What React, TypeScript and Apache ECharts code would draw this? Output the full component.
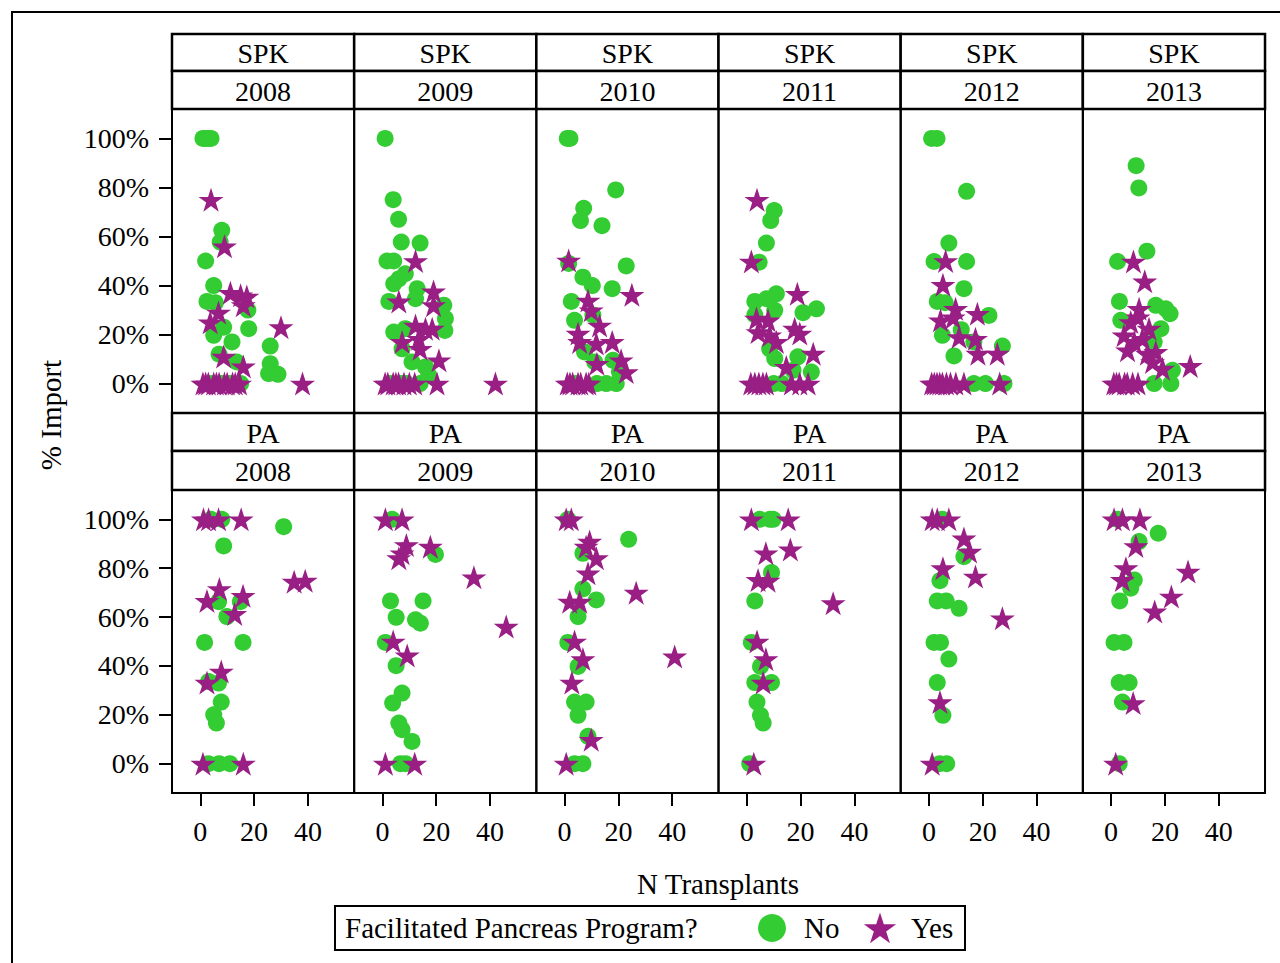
import React, { useEffect, useRef } from 'react';
import * as echarts from 'echarts';

const programs = ['SPK', 'PA'];
const years = ['2008', '2009', '2010', '2011', '2012', '2013'];
const yTicks = [0, 20, 40, 60, 80, 100];
const xTicks = [0, 20, 40];
const legendTitle = 'Facilitated Pancreas Program?';
const legendNames = ['No', 'Yes'];
const xTitle = 'N Transplants';
const yTitle = '% Import';

// ---- SPK panels: [N transplants, % import]
const spk2008No = [[1,100],[2,100],[3,100],[4,100],[8,62.5],[7.4,57.7],[2,50],[5,40],[2.5,33.5],[5.6,33],[17.7,30],[8.7,23],[18,22.4],[5,19.7],[11.8,17],[26,15.3],[26,8.1],[25.4,4.1],[28.9,3.8],[7,12],[13.6,8.8],[4,0],[8,0],[11,0],[15,0]];
const spk2008Yes = [[4,75],[9,56],[11.2,37],[15,36],[17.3,35.5],[16,32],[6.8,29],[3.7,25],[30,23],[8.7,11],[16,7],[38,0],[1,0],[2,0],[3,0],[5,0],[6,0],[7,0],[9,0],[10,0],[12,0],[13,0],[14.6,0]];
const spk2009No = [[1,100],[4,75],[6,67],[7,57.7],[14,57.3],[1.7,50],[4.2,50],[4.2,40.7],[6.1,42.7],[8.5,44.8],[12.9,38.7],[12.3,34.6],[2.4,33.5],[22.8,32],[23.4,26.5],[23.2,21.7],[4.2,21],[8.5,22.4],[7.3,14.2],[11,8.8],[16,6.8],[17.2,3.4],[3,0],[7,0],[9,0],[14,0]];
const spk2009Yes = [[12.3,50],[6.1,33.5],[19,37.6],[19,32],[12.3,23.7],[16,22.4],[13.5,18.3],[7.3,17],[14,14.2],[18.5,22.4],[21,9.5],[20.3,0],[42,0],[1,0],[2,0],[4,0],[5,0],[6,0],[8,0],[10,0],[12,0]];
const spk2010No = [[1,100],[2,100],[19,79],[7.1,71.5],[5.9,66.5],[13.9,64.4],[1.5,49],[22.9,48],[6.8,43.4],[10.3,40],[17.7,38.7],[2.5,33.5],[10.5,28],[3.7,25.8],[7.4,12.9],[11.2,8.8],[18,9.5],[15.5,0],[19.2,0],[20.4,4.7],[12,0],[4,0]];
const spk2010Yes = [[1.5,50.2],[25,36.2],[8.7,33.9],[9.9,29.9],[13,23.7],[5,20.4],[5.6,17],[11.8,16.3],[17.7,17],[12,8.1],[21,9.5],[22.9,4.7],[1,0],[2,0],[3,0],[5,0],[6,0],[8,0],[9,0]];
const spk2011No = [[10.2,70.6],[8.9,66.5],[7.3,57.3],[4.6,49.5],[3,33.5],[7.3,34.6],[11,36.6],[10.4,29.9],[20.9,28.9],[25.9,30.5],[8.5,14.2],[10.4,10.2],[19,10.9],[17.2,5.4],[24,4.7],[3,28],[10,0],[13,0]];
const spk2011Yes = [[3.8,75],[1.7,49.8],[18.8,36.6],[3.6,26.5],[7.9,25.8],[4.2,21],[8.5,19.7],[11,17],[17.8,22.4],[19.7,20.4],[24.7,12.2],[14.7,6.8],[16.6,0],[19.7,0],[22.8,0],[1.5,0],[3,0],[4.5,0],[6,0],[7.3,0]];
const spk2012No = [[1,100],[3,100],[14,78.4],[7.4,57.3],[1.9,49.8],[14,49.8],[13,38.7],[3.1,33.5],[22.3,27.8],[5,19.7],[9.3,11.3],[27.3,15.3],[16.7,17],[16.7,0],[21,0],[27.9,0],[6,33],[12,22]];
const spk2012Yes = [[6.2,50],[5.2,40.3],[9.9,30.5],[9,27],[18,28.5],[4.3,25.8],[11.2,19],[17.3,18.3],[18.2,12.2],[25.4,12.2],[26.3,0],[1,0],[2,0],[3,0],[4,0],[5,0],[6.5,0],[8,0],[10,0],[13,0]];
const spk2013No = [[9.3,88.9],[10.3,79.8],[13.3,54],[2.4,49.8],[3.1,33.5],[16.6,31.9],[21.9,28.5],[18.5,22.4],[16,17],[20.3,30.5],[3.6,25.8],[22.8,5.4],[22.2,0],[16,0]];
const spk2013Yes = [[8.3,49.8],[12.5,41.7],[10.4,30.5],[10,27],[7.3,25.1],[14.1,22.4],[4.8,19.7],[8.6,17],[11.6,18.3],[6.1,13.6],[13.5,12.2],[16.6,12.9],[19.1,6.1],[15.4,8.8],[29.4,7.2],[1,0],[2,0],[3,0],[5,0],[6,0],[8,0],[10,0]];

// ---- PA panels
const pa2008No = [[4,100],[8,100],[31,97],[8.7,89.1],[6.8,66.3],[14.9,66.3],[9.9,60.2],[1.6,49.6],[15.9,49.6],[3.1,33.6],[6.8,33],[7.8,25.2],[5,20],[6,16.6],[7,0],[11,0],[3,0]];
const pa2008Yes = [[1.2,100],[3.1,100],[6.8,100],[15.2,100],[34.9,74.5],[39,74.9],[7.1,71.5],[2.5,66.6],[15.9,68.7],[12.8,61.3],[7.8,37.7],[2.5,33.2],[1,0],[16,0]];
const pa2009No = [[3.6,100],[19.7,85.6],[3,66.6],[15.1,66.6],[5.1,59.9],[12.3,58.9],[14.1,57.5],[1.1,49.6],[5.1,40.1],[7.3,28.9],[3.8,24.8],[6.1,16.6],[7.3,13.9],[11,9.1],[6.7,0],[8.6,0]];
const pa2009Yes = [[1.1,100],[7.3,100],[8.9,89.5],[7.3,86.1],[6.1,84.1],[17.8,88.8],[34,76.3],[46,56.1],[4,50],[9.2,44.3],[1.1,0],[12,0]];
const pa2010No = [[1.2,100],[23.8,91.8],[6.8,86.1],[6.8,71.5],[11.8,67],[5,60.2],[1.2,49.6],[5,39.8],[3.7,25.2],[8,25.2],[5,19.8],[8.7,11.2],[3.7,0],[6.8,0]];
const pa2010Yes = [[0.6,100],[2.5,100],[9.3,90.9],[8,88.8],[11.8,84.1],[8.7,77.9],[26.6,70],[1.9,66.3],[5.6,66.3],[3.7,50],[6.8,42.8],[2.7,33.2],[40.9,43.9],[9.9,9.8],[0.6,0]];
const pa2011No = [[4.8,100],[8.6,100],[9.8,100],[9.2,78.2],[3,66.6],[1.7,49.6],[5.1,39.8],[3,33.2],[9.2,33.2],[3.8,25.2],[5.1,19.8],[6.1,16.6],[1.1,0]];
const pa2011Yes = [[1.7,100],[15.4,100],[7.1,86.1],[16.2,87.7],[4.2,75.2],[7.9,74.9],[32.1,65.7],[3.8,50],[7.1,42.8],[6.1,33.2],[2.6,0]];
const pa2012No = [[5,100],[13,84.7],[4.1,74.9],[3.1,66.6],[6.4,66.6],[11.2,63.6],[1.9,49.6],[4.3,49.6],[7.4,42.8],[3.1,33.2],[5.2,19.8],[4,0],[6.6,0]];
const pa2012Yes = [[1.2,100],[3.1,100],[7.4,100],[13,92.2],[15.1,86.8],[5.2,80],[17.3,76.6],[27.3,59.5],[4.1,25.2],[1.2,0]];
const pa2013No = [[2.4,100],[17.5,94.3],[10.4,90.9],[8.6,75.2],[7.3,71.8],[3.2,66.6],[1.1,49.6],[4.8,49.6],[3,33.2],[6.7,33.2],[4.2,25.2],[3,0]];
const pa2013Yes = [[1.1,100],[4.2,100],[10.7,100],[9.2,89.1],[5.5,80],[4.2,75.2],[28.6,78.6],[22.4,68.4],[16.2,62.3],[8.2,24.8],[1.7,0]];

const panelNo = [
  [spk2008No, spk2009No, spk2010No, spk2011No, spk2012No, spk2013No],
  [pa2008No, pa2009No, pa2010No, pa2011No, pa2012No, pa2013No],
];
const panelYes = [
  [spk2008Yes, spk2009Yes, spk2010Yes, spk2011Yes, spk2012Yes, spk2013Yes],
  [pa2008Yes, pa2009Yes, pa2010Yes, pa2011Yes, pa2012Yes, pa2013Yes],
];

const GREEN = '#33CC33';
const PURPLE = '#991F85';
const FONT = 'Liberation Serif';
const STAR_PTS = [
  [0, -1], [0.2245, -0.309], [0.9511, -0.309], [0.3633, 0.118], [0.5878, 0.809],
  [0, 0.382], [-0.5878, 0.809], [-0.3633, 0.118], [-0.9511, -0.309], [-0.2245, -0.309],
];
const STAR_PATH =
  'path://M' + STAR_PTS.map((p) => `${p[0]} ${p[1]}`).join(' L') + ' Z';

const LEFT = 172;
const COLW = 182.17;
const rowsLayout = [
  { top: 109, h: 304, h1: 34, h2: 71 },
  { top: 490, h: 303, h1: 413, h2: 451 },
];

export default function App() {
  const ref = useRef<HTMLDivElement>(null);
  useEffect(() => {
    if (!ref.current) return;
    const chart = echarts.init(ref.current, undefined, { renderer: 'svg' });
    const grid: any[] = [];
    const xAxis: any[] = [];
    const yAxis: any[] = [];
    const series: any[] = [];
    const graphic: any[] = [];
    let gi = 0;
    programs.forEach((prog, r) => {
      const L = rowsLayout[r];
      years.forEach((yr, c) => {
        const left = LEFT + c * COLW;
        grid.push({
          left, top: L.top, width: COLW, height: L.h,
          show: true, borderColor: '#000', borderWidth: 2, backgroundColor: 'transparent',
        });
        xAxis.push({
          gridIndex: gi, type: 'value', min: -10.5, max: 57.2, position: 'bottom',
          axisLine: { show: false, onZero: false }, splitLine: { show: false },
          axisTick: { show: r === 1, length: 13, customValues: xTicks, lineStyle: { color: '#000', width: 2 } },
          axisLabel: { show: r === 1, customValues: xTicks, margin: 24, color: '#000', fontSize: 28, fontFamily: FONT },
        });
        yAxis.push({
          gridIndex: gi, type: 'value', min: -12, max: 112, position: 'left',
          axisLine: { show: false, onZero: false }, splitLine: { show: false },
          axisTick: { show: c === 0, length: 13, customValues: yTicks, lineStyle: { color: '#000', width: 2 } },
          axisLabel: { show: c === 0, customValues: yTicks, formatter: '{value}%', margin: 23, color: '#000', fontSize: 28, fontFamily: FONT },
        });
        series.push({
          type: 'scatter', name: legendNames[0], xAxisIndex: gi, yAxisIndex: gi,
          symbol: 'circle', symbolSize: 17, itemStyle: { color: GREEN, opacity: 1 },
          data: panelNo[r][c], z: 2,
        });
        series.push({
          type: 'scatter', name: legendNames[1], xAxisIndex: gi, yAxisIndex: gi,
          symbol: STAR_PATH, symbolSize: [25, 24], itemStyle: { color: PURPLE, opacity: 1 },
          data: panelYes[r][c], z: 3,
        });
        graphic.push({
          type: 'rect', shape: { x: left, y: L.h1, width: COLW, height: L.h2 - L.h1 },
          style: { fill: '#fff', stroke: '#000', lineWidth: 2.5 },
        });
        graphic.push({
          type: 'rect', shape: { x: left, y: L.h2, width: COLW, height: L.top - L.h2 },
          style: { fill: '#fff', stroke: '#000', lineWidth: 2.5 },
        });
        graphic.push({
          type: 'text', x: left + COLW / 2, y: (L.h1 + L.h2) / 2 + 1,
          style: { text: prog, fill: '#000', fontSize: 28, fontFamily: FONT, align: 'center', verticalAlign: 'middle' },
        });
        graphic.push({
          type: 'text', x: left + COLW / 2, y: (L.h2 + L.top) / 2 + 1,
          style: { text: yr, fill: '#000', fontSize: 28, fontFamily: FONT, align: 'center', verticalAlign: 'middle' },
        });
        gi++;
      });
    });
    graphic.push({
      type: 'rect', shape: { x: 12, y: 12, width: 1300, height: 1000 },
      style: { fill: 'none', stroke: '#000', lineWidth: 2 },
    });
    graphic.push({
      type: 'text', x: 718, y: 884,
      style: { text: xTitle, fill: '#000', fontSize: 29, fontFamily: FONT, align: 'center', verticalAlign: 'middle' },
    });
    graphic.push({
      type: 'text', x: 51, y: 415, rotation: Math.PI / 2,
      style: { text: yTitle, fill: '#000', fontSize: 29, fontFamily: FONT, align: 'center', verticalAlign: 'middle' },
    });
    const ly = 928;
    graphic.push({
      type: 'rect', shape: { x: 335, y: 906, width: 630, height: 44 },
      style: { fill: '#fff', stroke: '#000', lineWidth: 2 },
    });
    graphic.push({
      type: 'text', x: 345, y: ly,
      style: { text: legendTitle, fill: '#000', fontSize: 29, fontFamily: FONT, align: 'left', verticalAlign: 'middle' },
    });
    graphic.push({ type: 'circle', shape: { cx: 772, cy: ly, r: 14 }, style: { fill: GREEN } });
    graphic.push({
      type: 'text', x: 804, y: ly,
      style: { text: legendNames[0], fill: '#000', fontSize: 29, fontFamily: FONT, align: 'left', verticalAlign: 'middle' },
    });
    const R = 17;
    graphic.push({
      type: 'polygon',
      shape: { points: STAR_PTS.map((p) => [880 + p[0] * R, ly + 1.5 + p[1] * R]) },
      style: { fill: PURPLE },
    });
    graphic.push({
      type: 'text', x: 911, y: ly,
      style: { text: legendNames[1], fill: '#000', fontSize: 29, fontFamily: FONT, align: 'left', verticalAlign: 'middle' },
    });

    chart.setOption({
      animation: false,
      backgroundColor: '#fff',
      textStyle: { fontFamily: FONT },
      grid, xAxis, yAxis, series, graphic,
    });
    return () => chart.dispose();
  }, []);
  return (
    <div
      ref={ref}
      style={{ position: 'absolute', left: 0, top: 0, width: 1280, height: 963 }}
    />
  );
}
